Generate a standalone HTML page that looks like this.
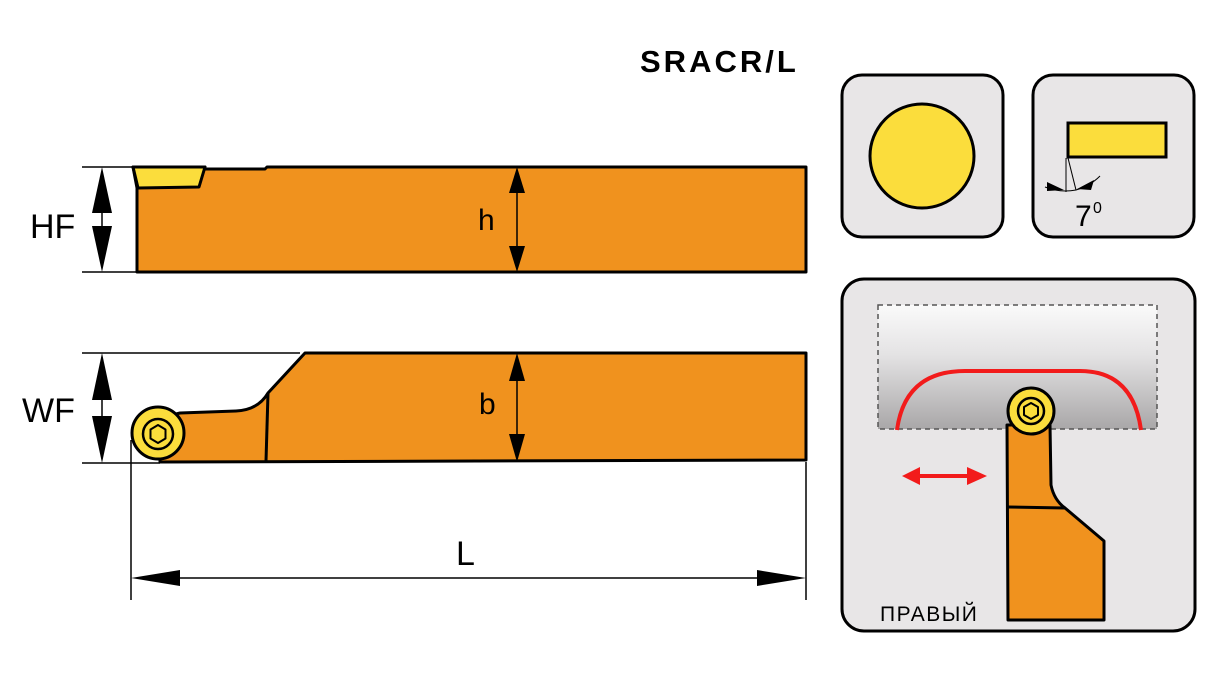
<!DOCTYPE html>
<html><head><meta charset="utf-8"><style>body{margin:0;background:#fff}svg{display:block}text{font-family:"Liberation Sans",sans-serif}</style></head><body>
<svg width="1226" height="678" viewBox="0 0 1226 678" xmlns="http://www.w3.org/2000/svg">
<defs>
<linearGradient id="g" x1="0" y1="0" x2="0" y2="1"><stop offset="0" stop-color="#fafafa"/><stop offset="0.4" stop-color="#e4e3e4"/><stop offset="1" stop-color="#a9a7a8"/></linearGradient>
</defs>
<g stroke="#000" stroke-width="3" stroke-linejoin="round">
<path d="M133,167 L205,167 L205,169 L265,169 L267,167 L806,167 L806,272 L137,272 L137,188 Z" fill="#F0921E"/>
<path d="M133,167 L205,167 L199,187 L138,188 Z" fill="#FBDD3C"/>
</g>
<g stroke="#000" stroke-width="1.5">
<line x1="82" y1="167" x2="133" y2="167"/><line x1="82" y1="272" x2="137" y2="272"/>
<line x1="102" y1="175" x2="102" y2="265"/><line x1="517" y1="175" x2="517" y2="265"/>
</g>
<g fill="#000">
<polygon points="102,167 92,213 112,213"/><polygon points="102,272 92,226 112,226"/>
<polygon points="517,167 509,193 525,193"/><polygon points="517,272 509,246 525,246"/>
</g>
<text x="30" y="238" font-size="34">HF</text>
<text x="478" y="230" font-size="30">h</text>
<g stroke="#000" stroke-width="3" stroke-linejoin="round">
<path d="M305,353 L806,353 L806,460 L160,462 L160,418 L180,413 L236,411 Q258,410 268,393 Z" fill="#F0921E"/>
<line x1="268" y1="393" x2="266" y2="461"/>
<circle cx="158" cy="433" r="26" fill="#FBDD3C"/>
<circle cx="158" cy="434" r="15" fill="none" stroke-width="2.5"/>
<polygon points="158,425 165.5,429.5 165.5,438.5 158,443 150.5,438.5 150.5,429.5" fill="#FBDD3C" stroke-width="2"/>
</g>
<g stroke="#000" stroke-width="1.5">
<line x1="82" y1="353" x2="300" y2="353"/><line x1="82" y1="463" x2="160" y2="463"/>
<line x1="102" y1="360" x2="102" y2="456"/><line x1="517" y1="360" x2="517" y2="454"/>
<line x1="131" y1="440" x2="131" y2="600"/><line x1="806" y1="462" x2="806" y2="600"/>
<line x1="140" y1="578" x2="800" y2="578"/>
</g>
<g fill="#000">
<polygon points="102,353 92,400 112,400"/><polygon points="102,463 92,416 112,416"/>
<polygon points="517,353 509,381 525,381"/><polygon points="517,462 509,434 525,434"/>
<polygon points="131,578 180,570 180,586"/><polygon points="806,578 757,570 757,586"/>
</g>
<text x="22" y="422" font-size="34">WF</text>
<text x="479" y="414" font-size="30">b</text>
<text x="456" y="565" font-size="34">L</text>
<text x="640" y="72" font-size="31" font-weight="bold" letter-spacing="3">SRACR/L</text>
<rect x="842" y="75" width="161" height="162" rx="20" fill="#E8E6E7" stroke="#000" stroke-width="3"/>
<circle cx="922" cy="156" r="52" fill="#FBDD3C" stroke="#000" stroke-width="3"/>
<rect x="1033" y="75" width="161" height="162" rx="20" fill="#E8E6E7" stroke="#000" stroke-width="3"/>
<rect x="1068" y="123" width="98" height="34" fill="#FBDD3C" stroke="#000" stroke-width="3"/>
<g stroke="#000" stroke-width="1">
<line x1="1066" y1="158" x2="1066" y2="192"/><line x1="1068" y1="158" x2="1076" y2="190"/>
<path d="M1045,187 Q1060,193 1076,190 Q1090,186 1100,176" fill="none"/>
</g>
<polygon points="1047,182 1064,190 1047,191" fill="#000"/><polygon points="1094,180 1077,189 1091,190" fill="#000"/>
<text x="1075" y="226" font-size="30">7</text><text x="1093" y="213" font-size="16">0</text>
<rect x="842" y="279" width="353" height="352" rx="22" fill="#E8E6E7" stroke="#000" stroke-width="3"/>
<rect x="878" y="305" width="279" height="124" fill="url(#g)" stroke="#555" stroke-width="1.5" stroke-dasharray="5,4"/>
<path d="M897,430 Q905,371 965,371 L1080,371 Q1133,371 1141,430" fill="none" stroke="#F21B1B" stroke-width="4"/>
<line x1="915" y1="476" x2="972" y2="476" stroke="#F21B1B" stroke-width="4"/>
<polygon points="902,476 920,467 920,485" fill="#F21B1B"/><polygon points="987,476 967,467 967,485" fill="#F21B1B"/>
<g stroke="#000" stroke-width="3" stroke-linejoin="round">
<path d="M1007,425 L1050,425 L1051,485 Q1054,500 1065,508 L1104,541 L1104,620 L1008,620 Z" fill="#F0921E"/>
<line x1="1008" y1="507" x2="1065" y2="508"/>
<circle cx="1031" cy="411" r="23" fill="#FBDD3C"/>
<circle cx="1031" cy="411" r="13" fill="none" stroke-width="2.5"/>
<polygon points="1031,403 1038,407 1038,415 1031,419 1024,415 1024,407" fill="#FBDD3C" stroke-width="2"/>
</g>
<text x="880" y="621" font-size="21" letter-spacing="1.5">ПРАВЫЙ</text>
</svg>
</body></html>
